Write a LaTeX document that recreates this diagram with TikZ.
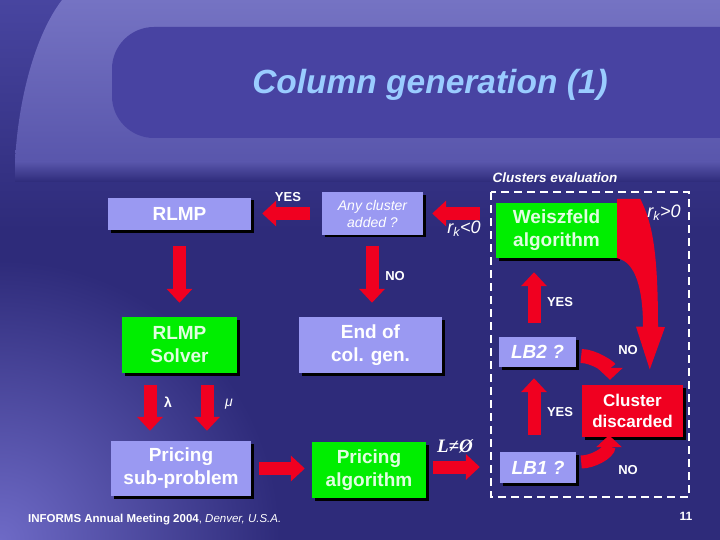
\documentclass[tikz,border=0pt]{standalone}
\usepackage{fontspec}
\setmainfont{Liberation Sans}
\newfontfamily\serifL{Liberation Serif}
\usetikzlibrary{arrows.meta,shadows}
\definecolor{bgmain}{HTML}{2E2B7A}
\definecolor{bgtop}{HTML}{4845A0}
\definecolor{glow}{HTML}{6E6AC6}
\definecolor{bandhi}{HTML}{7573C3}
\definecolor{bandlo}{HTML}{5956AC}
\definecolor{bandin}{HTML}{4843A2}
\definecolor{lav}{HTML}{9A99F2}
\definecolor{grn}{HTML}{00EE00}
\definecolor{redA}{HTML}{F00020}
\definecolor{titlec}{HTML}{9ACCFF}
\tikzset{
  box/.style={inner sep=0pt, align=center, text=white,
    font=\bfseries\fontsize{19}{23}\selectfont,
    drop shadow={shadow xshift=2.5pt, shadow yshift=-2.5pt, fill=black, opacity=1}},
  lavbox/.style={box, fill=lav},
  grnbox/.style={box, fill=grn, text=white!88!grn},
  redbox/.style={box, fill=redA, font=\bfseries\fontsize{17}{21}\selectfont},
  bar/.style={draw=redA, line width=13pt, line cap=butt,
    -{Triangle[width=25pt,length=14pt]}},
  thinbar/.style={draw=redA, line width=13pt, line cap=butt,
    -{Triangle[width=25pt,length=12pt]}},
  lbl/.style={text=white, font=\bfseries\fontsize{13}{15}\selectfont, inner sep=0pt},
  rlbl/.style={text=white, font=\itshape\fontsize{18}{20}\selectfont, inner sep=0pt},
}
\begin{document}
\begin{tikzpicture}[x=1pt,y=-1pt]
\useasboundingbox (0,0) rectangle (720,540);
% background
\fill[bgmain] (0,0) rectangle (720,540);
\shade[top color=bgtop, bottom color=bgmain] (0,0) rectangle (720,230);
\begin{scope}
  \clip (0,0) rectangle (720,540);
  \shade[inner color=glow, outer color=bgmain] (0,540) circle (280);
\end{scope}
\shade[top color=bandhi, bottom color=bandlo] (720,0) -- (62,0) .. controls (35,35) and (18,100) .. (15,162) -- (720,162) -- cycle;
\shade[top color=bandlo, bottom color=bgmain] (15,161.5) rectangle (720,182);
\fill[bandin, rounded corners=42pt] (112,27) rectangle (780,138);
% title
\node[text=titlec, font=\bfseries\itshape\fontsize{33.5}{36}\selectfont] (title) at (430,85) {Column generation (1)};
% dashed frame
\draw[white, line width=2.2pt, dash pattern=on 8pt off 5pt] (491,192) rectangle (689,497);
\node[text=white, font=\bfseries\itshape\fontsize{13.5}{15}\selectfont, inner sep=0pt] (ceval) at (555,178) {Clusters evaluation};
% boxes
\node[lavbox, minimum width=143pt, minimum height=32pt] (rlmp) at (179.5,214) {RLMP};
\node[lavbox, minimum width=101pt, minimum height=42pt, font=\itshape\fontsize{14}{17}\selectfont] (any) at (372.5,213.5) {Any cluster\\added ?};
\node[grnbox, minimum width=121pt, minimum height=55pt] (weis) at (556.5,230.5) {Weiszfeld\\algorithm};
\node[grnbox, minimum width=115pt, minimum height=56pt] (solver) at (179.5,345) {RLMP\\Solver};
\node[lavbox, minimum width=143pt, minimum height=56pt] (endcg) at (370.5,345) {End of\\col. gen.};
\node[lavbox, minimum width=77pt, minimum height=30pt, font=\bfseries\itshape\fontsize{19}{22}\selectfont] (lb2) at (537.5,352) {LB2 ?};
\node[redbox, minimum width=101pt, minimum height=52pt] (disc) at (632.5,411) {Cluster\\discarded};
\node[lavbox, minimum width=140pt, minimum height=55pt] (psub) at (181,468.5) {Pricing\\sub-problem};
\node[grnbox, minimum width=114pt, minimum height=56pt] (palg) at (369,470) {Pricing\\algorithm};
\node[lavbox, minimum width=76pt, minimum height=31pt, font=\bfseries\itshape\fontsize{19}{22}\selectfont] (lb1) at (538,467.5) {LB1 ?};
% straight arrows
\draw[bar, shorten <=12pt, shorten >=11pt] (any.west) -- (any.west -| rlmp.east);
\draw[bar, shorten <=16pt, shorten >=9pt] (weis.west |- any.east) -- (any.east);
\draw[bar, shorten <=16pt, shorten >=14pt] (rlmp.south) -- (solver.north);
\draw[bar, shorten <=11pt, shorten >=14pt] ([xshift=-0.5pt]any.south) -- ([xshift=-0.5pt]any.south |- endcg.north);
\draw[bar, shorten <=12pt, shorten >=10pt] ([xshift=-29.5pt]solver.south) -- ([xshift=-29.5pt]solver.south |- psub.north);
\draw[bar, shorten <=12pt, shorten >=10pt] ([xshift=27.5pt]solver.south) -- ([xshift=27.5pt]solver.south |- psub.north);
\draw[bar, shorten <=8pt, shorten >=7pt] (psub.east) -- (psub.east -| palg.west);
\draw[bar, shorten <=7pt, shorten >=20pt] ([yshift=3pt]palg.east) -- ([yshift=3pt]palg.east -| lb1.west);
\draw[bar, shorten <=17pt, shorten >=11pt] ([xshift=-4pt]lb1.north) -- ([xshift=-4pt]lb1.north |- lb2.south);
\draw[bar, shorten <=14pt, shorten >=14pt] ([xshift=-3.5pt]lb2.north) -- ([xshift=-3.5pt]lb2.north |- weis.south);
% curved arrows
\draw[thinbar, line width=14pt, shorten <=5pt, shorten >=5pt] ([yshift=-4pt]lb2.east) to[out=0, in=90] ([xshift=-22.5pt]disc.north);
\draw[thinbar, line width=13pt, shorten <=5pt, shorten >=-2pt] ([yshift=5.5pt]lb1.east) to[out=0, in=-90] ([xshift=-23.5pt]disc.south);
\fill[redA] ([yshift=4pt]weis.north east) -- ++(23,0) .. controls (652,222) and (658,250) .. (658,327) -- (643,327) .. controls (643,290) and (636,262) .. (weis.south east) -- cycle;
\draw[redA, line width=15pt, -{Triangle[width=24pt,length=50pt]}, shorten >=8pt] (650.5,326) -- ([xshift=17pt]disc.north);
% labels
\node[lbl] (yes1) at (288,197) {YES};
\node[lbl] (no1) at (395,276) {NO};
\node[lbl] (yes2) at (560,302) {YES};
\node[lbl] (yes3) at (560,412) {YES};
\node[lbl] (no2) at (628,350) {NO};
\node[lbl] (no3) at (628,470) {NO};
\node[rlbl] (rneg) at (464,229) {r\textsubscript{k}<0};
\node[rlbl] (rpos) at (664,213) {r\textsubscript{k}>0};
\node[text=white, font=\bfseries\fontsize{14}{16}\selectfont, inner sep=0pt] (lam) at (168,402) {λ};
\node[text=white, font=\itshape\fontsize{14}{16}\selectfont, inner sep=0pt] (mu) at (229,404) {μ};
\node[text=white, font=\serifL\bfseries\itshape\fontsize{19}{21}\selectfont, inner sep=0pt] (lne) at (455,446) {L≠Ø};
\node[text=white, anchor=west, font=\fontsize{11.5}{13}\selectfont, inner sep=0pt] (foot) at (28,520) {\textbf{INFORMS Annual Meeting 2004}, \textit{Denver, U.S.A.}};
\node[text=white, font=\bfseries\fontsize{12}{14}\selectfont, inner sep=0pt] (pg) at (686,516) {11};
\end{tikzpicture}
\end{document}
